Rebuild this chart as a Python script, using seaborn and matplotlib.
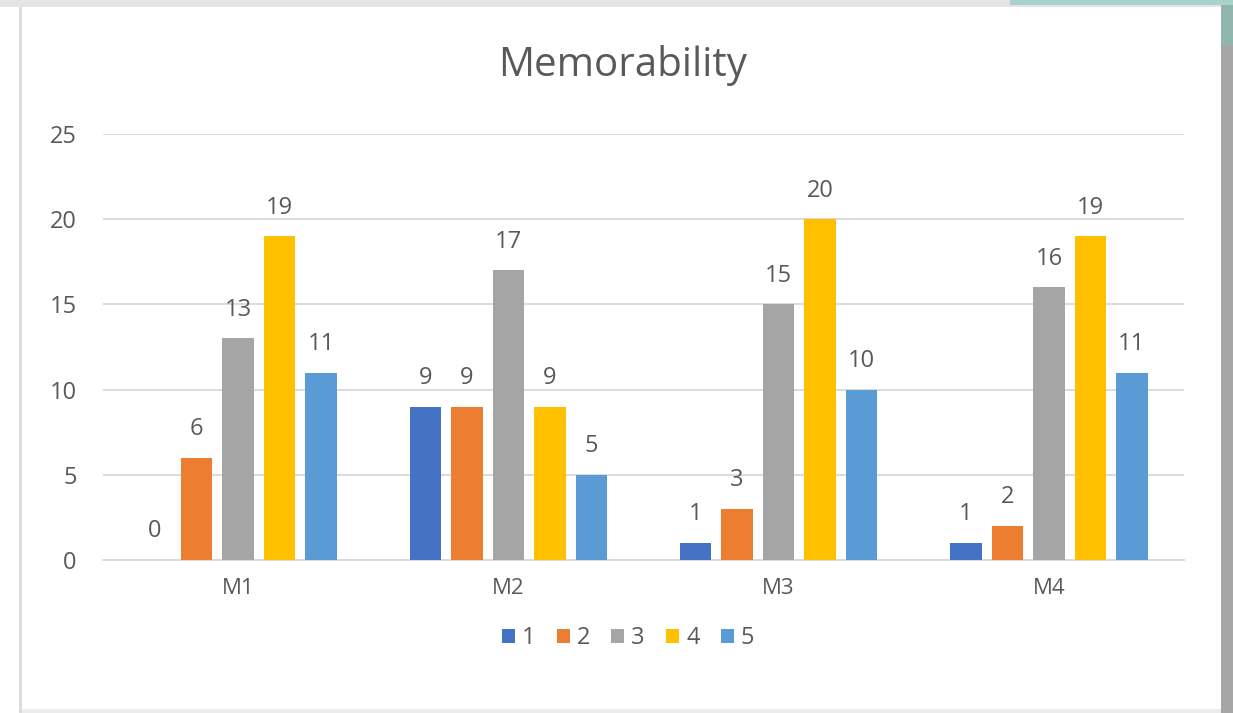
import matplotlib
matplotlib.use("Agg")
import matplotlib.pyplot as plt
import matplotlib.patches as mpatches
import seaborn as sns
import pandas as pd

categories = ["M1", "M2", "M3", "M4"]
ratings = ["1", "2", "3", "4", "5"]
values_1 = [0, 9, 1, 1]
values_2 = [6, 9, 3, 2]
values_3 = [13, 17, 15, 16]
values_4 = [19, 9, 20, 19]
values_5 = [11, 5, 10, 11]
yticks = [0, 5, 10, 15, 20, 25]
title = "Memorability"

colors = ["#4472C4", "#ED7D31", "#A5A5A5", "#FFC000", "#5B9BD5"]
series = [values_1, values_2, values_3, values_4, values_5]

rows = []
for r, vals in zip(ratings, series):
    for c, v in zip(categories, vals):
        rows.append({"cat": c, "rating": r, "count": v})
df = pd.DataFrame(rows)

sns.set_theme(style="white")
plt.rcParams["font.family"] = ["Open Sans", "DejaVu Sans"]
text_col = "#595959"

W, H = 1233, 713
fig = plt.figure(figsize=(W / 100, H / 100), dpi=100)
fig.patch.set_facecolor("white")

def px_rect(x0, y0, x1, y1, color, z=0):
    fig.patches.append(mpatches.Rectangle((x0 / W, 1 - y1 / H), (x1 - x0) / W, (y1 - y0) / H,
                                          transform=fig.transFigure, facecolor=color,
                                          edgecolor="none", zorder=z))

# frame decoration (screenshot border)
px_rect(0, 0, W, 7, "#e4e4e4")
px_rect(1010, 0, W, 5, "#a9d3ca")
px_rect(19, 7, 22, 713, "#dcdcdc")
px_rect(1221, 7, W, 713, "#a6a6a6")
px_rect(1221, 5, W, 45, "#8fb7ae")
px_rect(22, 709, 1221, 713, "#ececec")

ax = fig.add_axes([103 / W, 1 - 560 / H, (1184 - 103) / W, (560 - 134) / H])
ax.set_facecolor("none")

sns.barplot(data=df, x="cat", y="count", hue="rating", order=categories,
            hue_order=ratings, palette=colors, width=0.768, gap=0.24,
            saturation=1, linewidth=0, ax=ax, zorder=3)

for cont in ax.containers:
    ax.bar_label(cont, padding=12, fontsize=17, color=text_col)

ax.set_xlim(-0.5, 3.5)
ax.set_ylim(0, 25)
ax.set_yticks(yticks)
ax.yaxis.grid(True, color="#d9d9d9", linewidth=1.3, zorder=0)
ax.set_axisbelow(True)
for s in ["top", "right", "left"]:
    ax.spines[s].set_visible(False)
ax.spines["bottom"].set_color("#d9d9d9")
ax.spines["bottom"].set_linewidth(1.3)
ax.tick_params(axis="y", length=0, pad=19, labelsize=17, labelcolor=text_col)
ax.tick_params(axis="x", length=0, pad=13, labelsize=16, labelcolor=text_col)
ax.set_xlabel("")
ax.set_ylabel("")

fig.text(623 / W, 1 - 66 / H, title, ha="center", va="center", fontsize=29, color=text_col)

handles = [mpatches.Patch(facecolor=c, edgecolor="none") for c in colors]
leg = ax.legend_
if leg is not None:
    leg.remove()
fig.legend(handles, ratings, loc="center", bbox_to_anchor=(628 / W, 1 - 638 / H), ncol=5,
           frameon=False, fontsize=17, handlelength=0.55, handleheight=0.55,
           handletextpad=0.3, columnspacing=0.9, labelcolor=text_col)

fig.savefig("out.png", dpi=100)
